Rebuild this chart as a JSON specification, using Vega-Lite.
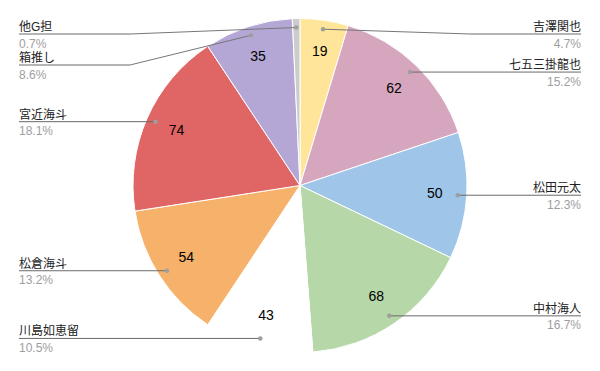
{
  "$schema": "https://vega.github.io/schema/vega-lite/v6.json",
  "width": 600,
  "height": 371,
  "padding": 0,
  "autosize": "none",
  "view": {"stroke": null},
  "config": {"font": "Liberation Sans, Noto Sans CJK JP", "text": {"font": "Liberation Sans, Noto Sans CJK JP"}},
  "data": {
    "values": [
      {"idx": 0, "name": "吉澤関也", "value": 19},
      {"idx": 1, "name": "七五三掛龍也", "value": 62},
      {"idx": 2, "name": "松田元太", "value": 50},
      {"idx": 3, "name": "中村海人", "value": 68},
      {"idx": 4, "name": "川島如恵留", "value": 43},
      {"idx": 5, "name": "松倉海斗", "value": 54},
      {"idx": 6, "name": "宮近海斗", "value": 74},
      {"idx": 7, "name": "箱推し", "value": 35},
      {"idx": 8, "name": "他G担", "value": 3}
    ]
  },
  "transform": [
    {"joinaggregate": [{"op": "sum", "field": "value", "as": "total"}]},
    {"window": [{"op": "sum", "field": "value", "as": "cum"}], "sort": [{"field": "idx", "order": "ascending"}], "frame": [null, 0]},
    {"calculate": "(datum.cum - datum.value/2)/datum.total*2*PI", "as": "mid"},
    {"calculate": "datum.value/datum.total", "as": "pct"},
    {"calculate": "300 + 158*sin(datum.mid)", "as": "dotX"},
    {"calculate": "185.5 - 158*cos(datum.mid)", "as": "dotY"},
    {"calculate": "300 + 135*sin(datum.mid)", "as": "valX"},
    {"calculate": "185.5 - 135*cos(datum.mid)", "as": "valY"},
    {"calculate": "datum.dotX < 300 ? 'left' : 'right'", "as": "side"},
    {"window": [{"op": "row_number", "as": "rank"}], "groupby": ["side"], "sort": [{"field": "dotY", "order": "ascending"}]},
    {"calculate": "datum.dotY - 31*(datum.rank-1)", "as": "t"},
    {"window": [{"op": "max", "field": "t", "as": "tmax"}], "groupby": ["side"], "sort": [{"field": "dotY", "order": "ascending"}], "frame": [null, 0]},
    {"calculate": "31*(datum.rank-1) + max(34, datum.tmax)", "as": "labY"},
    {"calculate": "abs(datum.labY - datum.dotY) > 1 ? (datum.side == 'left' ? 130 : 470) : datum.dotX", "as": "elbX"},
    {"calculate": "datum.side == 'left' ? 19 : 581", "as": "endX"}
  ],
  "layer": [
    {
      "mark": {"type": "arc", "outerRadius": 167, "stroke": "#ffffff", "strokeWidth": 1},
      "encoding": {
        "theta": {"field": "value", "type": "quantitative", "stack": true},
        "order": {"field": "idx", "type": "quantitative"},
        "color": {
          "field": "name",
          "type": "nominal",
          "legend": null,
          "scale": {
            "domain": ["吉澤関也", "七五三掛龍也", "松田元太", "中村海人", "川島如恵留", "松倉海斗", "宮近海斗", "箱推し", "他G担"],
            "range": ["#FFE599", "#D5A6BD", "#9FC5E8", "#B6D7A8", "#FFFFFF", "#F6B26B", "#E06666", "#B4A7D6", "#CCCCCC"]
          }
        }
      }
    },
    {
      "transform": [{"filter": "datum.pct > 0.02"}],
      "mark": {"type": "text", "fontSize": 14, "color": "#000000", "align": "center", "baseline": "middle"},
      "encoding": {
        "x": {"field": "valX", "type": "quantitative", "scale": {"domain": [0, 600], "nice": false, "zero": false}, "axis": null},
        "y": {"field": "valY", "type": "quantitative", "scale": {"domain": [0, 371], "nice": false, "zero": false, "reverse": true}, "axis": null},
        "text": {"field": "value", "type": "quantitative"}
      }
    },
    {
      "mark": {"type": "rule", "color": "#777777", "strokeWidth": 1},
      "encoding": {
        "x": {"field": "dotX", "type": "quantitative", "scale": {"domain": [0, 600], "nice": false, "zero": false}, "axis": null},
        "y": {"field": "dotY", "type": "quantitative", "scale": {"domain": [0, 371], "nice": false, "zero": false, "reverse": true}, "axis": null},
        "x2": {"field": "elbX"},
        "y2": {"field": "labY"}
      }
    },
    {
      "mark": {"type": "rule", "color": "#6a6a6a", "strokeWidth": 1},
      "encoding": {
        "x": {"field": "elbX", "type": "quantitative", "scale": {"domain": [0, 600], "nice": false, "zero": false}, "axis": null},
        "y": {"field": "labY", "type": "quantitative", "scale": {"domain": [0, 371], "nice": false, "zero": false, "reverse": true}, "axis": null},
        "x2": {"field": "endX"}
      }
    },
    {
      "mark": {"type": "point", "filled": true, "size": 20, "color": "#9e9e9e", "opacity": 1},
      "encoding": {
        "x": {"field": "dotX", "type": "quantitative", "scale": {"domain": [0, 600], "nice": false, "zero": false}, "axis": null},
        "y": {"field": "dotY", "type": "quantitative", "scale": {"domain": [0, 371], "nice": false, "zero": false, "reverse": true}, "axis": null}
      }
    },
    {
      "transform": [{"filter": "datum.side == 'left'"}],
      "mark": {"type": "text", "fontSize": 12, "color": "#222222", "align": "left", "baseline": "alphabetic", "dy": -3},
      "encoding": {
        "x": {"field": "endX", "type": "quantitative", "scale": {"domain": [0, 600], "nice": false, "zero": false}, "axis": null},
        "y": {"field": "labY", "type": "quantitative", "scale": {"domain": [0, 371], "nice": false, "zero": false, "reverse": true}, "axis": null},
        "text": {"field": "name", "type": "nominal"}
      }
    },
    {
      "transform": [{"filter": "datum.side == 'right'"}],
      "mark": {"type": "text", "fontSize": 12, "color": "#222222", "align": "right", "baseline": "alphabetic", "dy": -3},
      "encoding": {
        "x": {"field": "endX", "type": "quantitative", "scale": {"domain": [0, 600], "nice": false, "zero": false}, "axis": null},
        "y": {"field": "labY", "type": "quantitative", "scale": {"domain": [0, 371], "nice": false, "zero": false, "reverse": true}, "axis": null},
        "text": {"field": "name", "type": "nominal"}
      }
    },
    {
      "transform": [{"filter": "datum.side == 'left'"}],
      "mark": {"type": "text", "fontSize": 12, "color": "#9e9e9e", "align": "left", "baseline": "alphabetic", "dy": 13.5},
      "encoding": {
        "x": {"field": "endX", "type": "quantitative", "scale": {"domain": [0, 600], "nice": false, "zero": false}, "axis": null},
        "y": {"field": "labY", "type": "quantitative", "scale": {"domain": [0, 371], "nice": false, "zero": false, "reverse": true}, "axis": null},
        "text": {"field": "pct", "type": "quantitative", "format": ".1%"}
      }
    },
    {
      "transform": [{"filter": "datum.side == 'right'"}],
      "mark": {"type": "text", "fontSize": 12, "color": "#9e9e9e", "align": "right", "baseline": "alphabetic", "dy": 13.5},
      "encoding": {
        "x": {"field": "endX", "type": "quantitative", "scale": {"domain": [0, 600], "nice": false, "zero": false}, "axis": null},
        "y": {"field": "labY", "type": "quantitative", "scale": {"domain": [0, 371], "nice": false, "zero": false, "reverse": true}, "axis": null},
        "text": {"field": "pct", "type": "quantitative", "format": ".1%"}
      }
    }
  ]
}
